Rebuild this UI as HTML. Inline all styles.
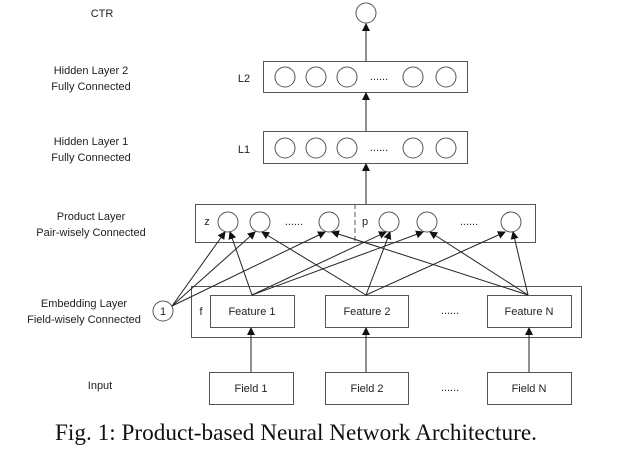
<!DOCTYPE html>
<html><head><style>
html,body{margin:0;padding:0;background:#fff;}
svg{display:block;}
text{font-family:"Liberation Sans",sans-serif;font-size:11px;fill:#222;}
</style></head><body>
<svg width="630" height="453" viewBox="0 0 630 453" xmlns="http://www.w3.org/2000/svg">
<defs><marker id="a" markerWidth="8" markerHeight="8" refX="7" refY="4" orient="auto" markerUnits="userSpaceOnUse"><path d="M0,0 L8,4 L0,8 z" fill="#111"/></marker></defs>
<g stroke="#555" stroke-width="1" fill="none">
<circle cx="366" cy="13" r="10"/>
<rect x="263.5" y="61.5" width="204" height="31"/>
<rect x="263.5" y="131.5" width="204" height="32"/>
<rect x="195.5" y="204.5" width="340" height="38"/>
<rect x="191.5" y="286.5" width="390" height="51"/>
<rect x="210.5" y="295.5" width="84" height="32"/>
<rect x="325.5" y="295.5" width="83" height="32"/>
<rect x="487.5" y="295.5" width="84" height="32"/>
<rect x="209.5" y="372.5" width="84" height="32"/>
<rect x="325.5" y="372.5" width="83" height="32"/>
<rect x="487.5" y="372.5" width="84" height="32"/>
<circle cx="163" cy="311" r="10"/>
<g>
<circle cx="285" cy="77" r="10"/><circle cx="316" cy="77" r="10"/><circle cx="347" cy="77" r="10"/><circle cx="413" cy="77" r="10"/><circle cx="446" cy="77" r="10"/>
<circle cx="285" cy="148" r="10"/><circle cx="316" cy="148" r="10"/><circle cx="347" cy="148" r="10"/><circle cx="413" cy="148" r="10"/><circle cx="446" cy="148" r="10"/>
<circle cx="228" cy="222" r="10"/><circle cx="260" cy="222" r="10"/><circle cx="329" cy="222" r="10"/>
<circle cx="389" cy="222" r="10"/><circle cx="427" cy="222" r="10"/><circle cx="511" cy="222" r="10"/>
</g>
<line x1="355" y1="204" x2="355" y2="242" stroke-dasharray="5,3"/>
</g>
<g stroke="#222" stroke-width="1" marker-end="url(#a)">
<line x1="366" y1="61" x2="366" y2="24"/>
<line x1="366" y1="131" x2="366" y2="93"/>
<line x1="366" y1="204" x2="366" y2="164"/>
<line x1="251" y1="372" x2="251" y2="328"/>
<line x1="366" y1="372" x2="366" y2="328"/>
<line x1="529" y1="372" x2="529" y2="328"/>
<line x1="172" y1="306" x2="225" y2="232"/>
<line x1="172" y1="306" x2="255" y2="232"/>
<line x1="172" y1="306" x2="325" y2="232"/>
<line x1="252" y1="295" x2="230" y2="232"/>
<line x1="252" y1="295" x2="386" y2="232"/>
<line x1="252" y1="295" x2="423" y2="232"/>
<line x1="366" y1="295" x2="262" y2="232"/>
<line x1="366" y1="295" x2="390" y2="232"/>
<line x1="366" y1="295" x2="505" y2="232"/>
<line x1="528" y1="295" x2="332" y2="232"/>
<line x1="528" y1="295" x2="430" y2="232"/>
<line x1="528" y1="295" x2="513" y2="232"/>
</g>
<g text-anchor="middle">
<text x="102" y="17">CTR</text>
<text x="91" y="74">Hidden Layer 2</text><text x="91" y="90">Fully Connected</text>
<text x="91" y="145">Hidden Layer 1</text><text x="91" y="161">Fully Connected</text>
<text x="91" y="220">Product Layer</text><text x="91" y="236">Pair-wisely Connected</text>
<text x="84" y="307">Embedding Layer</text><text x="84" y="323">Field-wisely Connected</text>
<text x="100" y="389">Input</text>
<text x="244" y="82">L2</text><text x="244" y="153">L1</text>
<text x="163" y="315">1</text>
<text x="252" y="315">Feature 1</text><text x="367" y="315">Feature 2</text><text x="529" y="315">Feature N</text>
<text x="251" y="392">Field 1</text><text x="367" y="392">Field 2</text><text x="529" y="392">Field N</text>
<text x="379" y="80">......</text><text x="379" y="151">......</text>
<text x="294" y="225">......</text><text x="469" y="225">......</text>
<text x="450" y="314">......</text><text x="450" y="391">......</text>
</g>
<text x="207" y="225" text-anchor="middle">z</text>
<text x="365" y="225" text-anchor="middle">p</text>
<text x="201" y="315" text-anchor="middle">f</text>
<text x="55" y="440" style="font-family:'Liberation Serif',serif;font-size:23px;fill:#111" textLength="482" lengthAdjust="spacingAndGlyphs">Fig. 1: Product-based Neural Network Architecture.</text>
</svg>
</body></html>
